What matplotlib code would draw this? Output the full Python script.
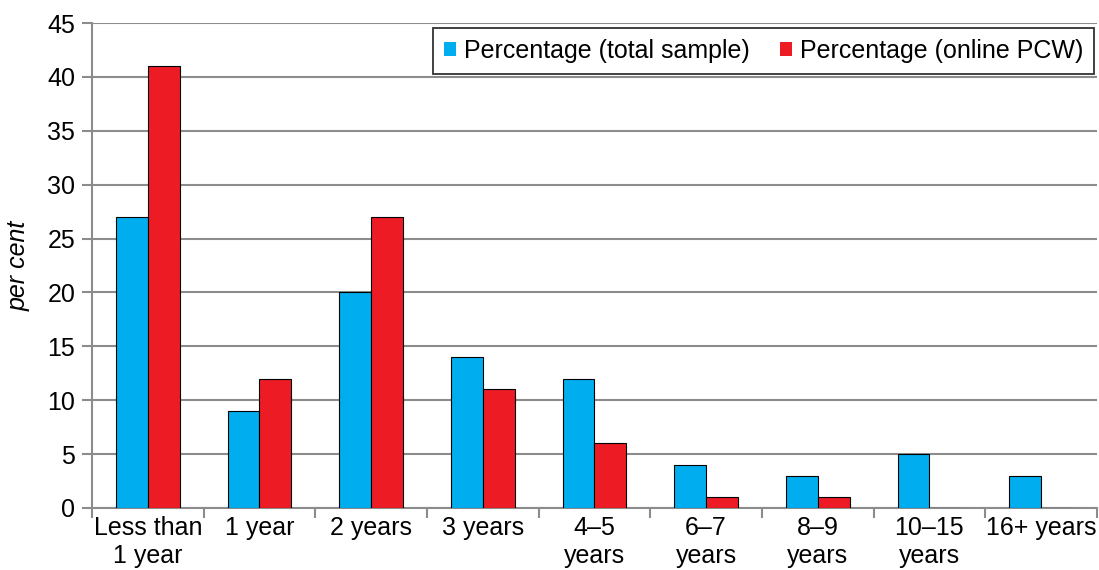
import matplotlib
matplotlib.use("Agg")
import matplotlib.pyplot as plt
import numpy as np

plt.rcParams['font.family'] = ['Liberation Sans', 'DejaVu Sans']

# Durée depuis le dernier changement de fournisseur
categories = ["Less than\n1 year", "1 year", "2 years", "3 years", "4–5\nyears",
              "6–7\nyears", "8–9\nyears", "10–15\nyears", "16+ years"]
total_sample = [27, 9, 20, 14, 12, 4, 3, 5, 3]
online_pcw = [41, 12, 27, 11, 6, 1, 1, 0, 0]

blue = "#00AEEF"
red = "#ED1C24"
grey = "#8C8C8C"
fs = 18

fig = plt.figure(figsize=(10.99, 5.70), dpi=100)
ax = fig.add_axes([0.0837, 0.1088, 0.9143, 0.8508])

x = np.arange(len(categories))
w = 0.285
ax.bar(x - w / 2, total_sample, w, color=blue, edgecolor="black", linewidth=0.8,
       label="Percentage (total sample)", zorder=3)
ax.bar(x + w / 2, online_pcw, w, color=red, edgecolor="black", linewidth=0.8,
       label="Percentage (online PCW)", zorder=3)

ax.set_xlim(-0.5, len(categories) - 0.5)
ax.set_ylim(0, 45)
ax.set_yticks(np.arange(0, 46, 5))
ax.yaxis.grid(True, color=grey, linewidth=1.5, zorder=0)

# graduations de l'axe X entre les catégories
ax.set_xticks(np.arange(-0.5, len(categories), 1))
ax.set_xticklabels([])
ax.set_xticks(x, minor=True)
ax.set_xticklabels(categories, minor=True, fontsize=fs, linespacing=1.2)
ax.tick_params(axis="x", which="minor", length=0, pad=6)
ax.tick_params(axis="x", which="major", length=7, width=1.5, color=grey)
ax.tick_params(axis="y", length=7, width=1.5, color=grey, labelsize=fs, pad=5)

for side in ["top", "right"]:
    ax.spines[side].set_visible(False)
for side in ["left", "bottom"]:
    ax.spines[side].set_color(grey)
    ax.spines[side].set_linewidth(1.5)

ax.set_ylabel("per cent", fontsize=fs, style="italic", labelpad=12)

leg = ax.legend(loc="upper right", ncol=2, fontsize=fs, frameon=True, fancybox=False,
                handlelength=0.5, handleheight=0.5, handletextpad=0.3,
                columnspacing=1.2, borderpad=0.45, borderaxespad=0,
                bbox_to_anchor=(0.9975, 0.99))
leg.get_frame().set_edgecolor("black")
leg.get_frame().set_linewidth(1.3)
for h in leg.legend_handles:
    h.set_edgecolor("none")

fig.savefig("out.png", dpi=100)
